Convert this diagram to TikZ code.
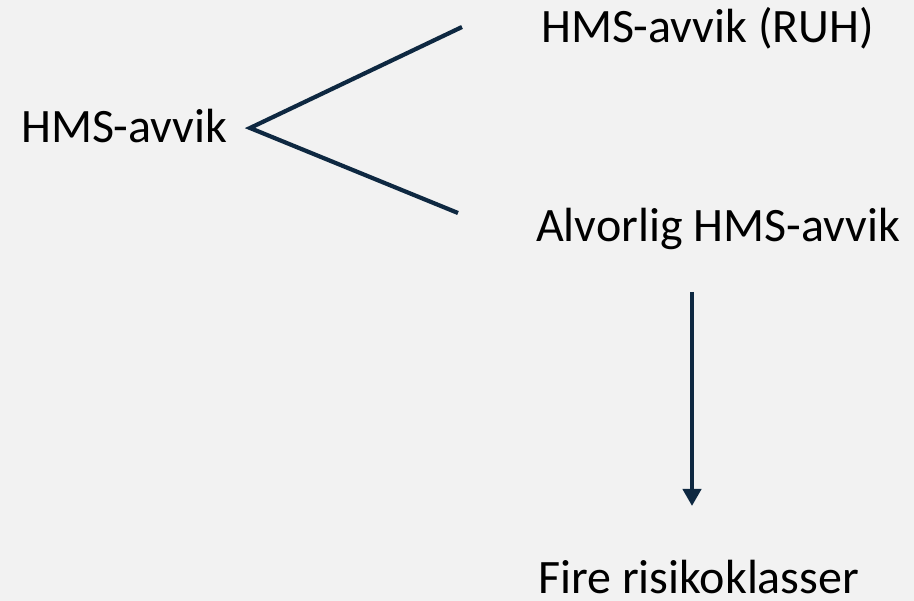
\documentclass[tikz,border=0pt]{standalone}
\usepackage{fontspec}
\setmainfont{Carlito}
\usetikzlibrary{arrows.meta,positioning}
\definecolor{navy}{HTML}{0E2841}
\definecolor{bg}{HTML}{F2F2F2}
\tikzset{
  lbl/.style={anchor=base west, inner sep=0pt, font=\fontsize{48}{56}\selectfont},
  stroke/.style={draw=navy, line width=4.2pt}
}

\begin{document}
\begin{tikzpicture}[x=1pt, y=-1pt]
  \fill[bg](0,0) rectangle (914,601);
  \useasboundingbox(0,0) rectangle (914,601);
  \node[lbl](hms) at (21,143) {HMS-avvik};
  \node[lbl](ruh) at (541,43) {HMS-avvik (RUH)};
  \node[lbl](alv) at (536,242) {Alvorlig HMS-avvik};
  \node[lbl](fire) at (538,594) {Fire risikoklasser};
  % the fork
  \coordinate(V) at (250,128);
  \coordinate(U) at (462,27);
  \coordinate(L) at (458,213);
  \draw[stroke, line join=miter](U)--(V)--(L);
  % down arrow
  \coordinate(S) at (692,292);
  \coordinate(T) at (692,506);
  \draw[stroke, -{Triangle[width=18pt,length=17pt]}, navy](S)--(T);
\end{tikzpicture}
\end{document}
